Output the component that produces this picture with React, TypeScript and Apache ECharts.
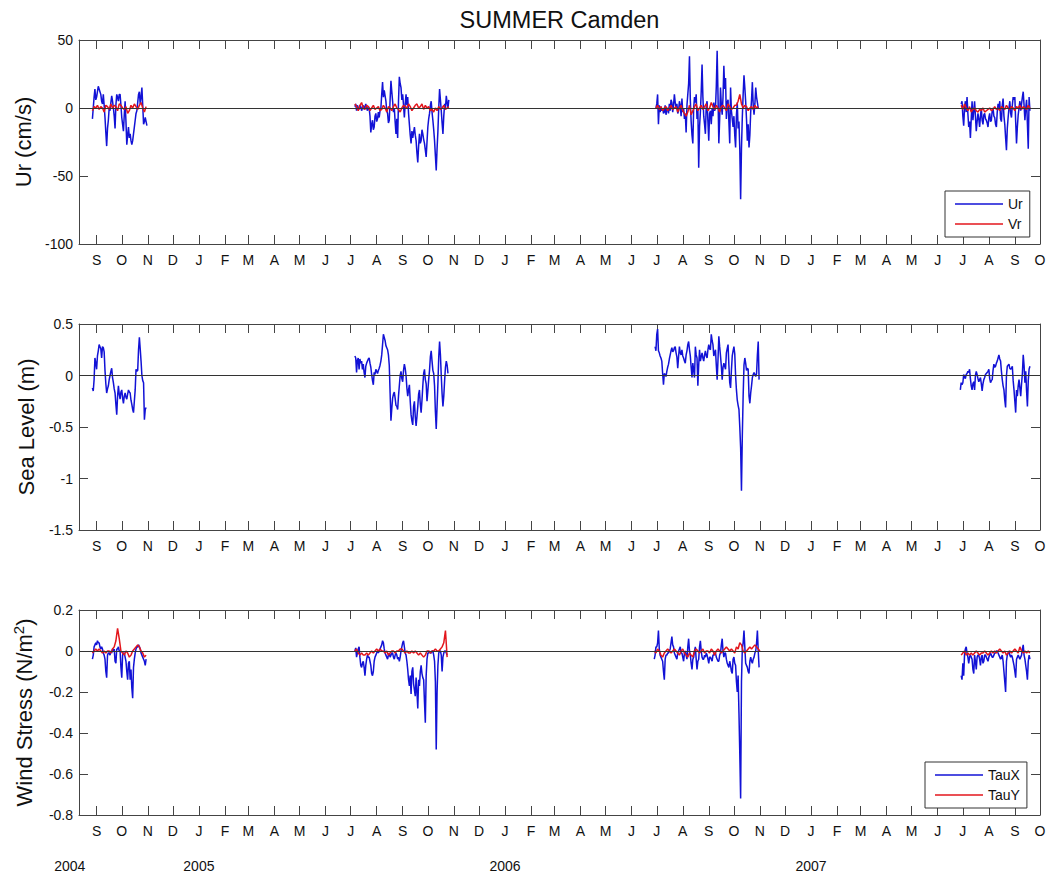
import React, { useEffect, useRef } from 'react';
import * as echarts from 'echarts';

const DAY = 86400000;
const FONT = "'Liberation Sans', Arial, Helvetica, sans-serif";
const BLUE = '#1212d6';
const RED = '#e3161c';
const FRAME = '#444444';

const AXIS_START = '2004-08-11';
const AXIS_END = '2007-10-01';
const MONTH_LETTERS = ['J', 'F', 'M', 'A', 'M', 'J', 'J', 'A', 'S', 'O', 'N', 'D'];
const YEAR_LABELS = ['2004', '2005', '2006', '2007'];
const YEAR_LABEL_DATES = ['2004-07-31', '2005-01-01', '2006-01-01', '2007-01-01'];
const TITLE = 'SUMMER Camden';

// ---------- Ur (cm/s), daily ----------
const UR_2004_START = '2004-08-27';
const UR_2004 = [-8, 0, 8, 14, 6, 8, 12, 16, 14, 12, 10, 5, 3, 10, 2, -7, -18, -28, -15, -9, 0, -2, 4, 9, 5, 0, -6, -15, 2, 10, 8, 5, 10, 10, 2, -7, -12, -17, -5, 5, -10, -27, -20, -14, -22, -19, -24, -27, -24, -19, -14, -9, -4, -2, 4, 10, 12, 3, 8, 15, 2, -12, -10, -7, -10, -13];
const UR_2005_START = '2005-07-06';
const UR_2005 = [1, 3, -2, 2, 0, -1, 2, 1, -2, 0, 2, -1, 1, 3, 0, -2, 1,
  0, -6, -18, -12, -9, -16, -14, -6, -4, -10,
  -8, -3, -7, -2, 0, 10, 19, 8, 13, 9,
  5, -2, -4, -11, -9, 6, 20, 12, 5, -3,
  0, -10, -19, -8, -22, 5, 23, 18, 15, 6,
  10, 2, -7, 3, 10, 2, 8, -4, -12, -20,
  -26, -17, -22, -18, -14, -20, -24, -33, -40, -28,
  -19, -26, -24, -16, -19, -23, -26, -31, -36, -25,
  -14, -8, -4, 2, 5, -3, -9, -16, -24, -35,
  -46, -30, -17, 0, 14, 6, -2, -11, -19, -6,
  3, 0, 9, 4, 0, 6];
const UR_2006_START = '2006-06-30';
const UR_2006 = [0, 3, 10, -12, 2, -3, 1, -2, 0, -4,
  -3, 2, -5, -1, 0, -4, 3, -2, 6, 4,
  -3, 2, 10, 4, 0, 3, -4, -2, 5, 2,
  -6, 7, -3, 0, -8, -4, -18, 2, 10, 18,
  38, 6, -10, -20, -26, 0, 8, 4, 10, -8,
  0, -44, -14, -3, 12, 32, 8, -6, -12, -19,
  2, 5, -10, -24, -4, -2, -12, 0, -6, 4,
  -2, 0, 16, 42, 10, -26, -8, 15, 2, -5,
  8, 31, 14, 22, -8, 4, 6, -10, -26, 15,
  -2, -8, -14, -6, -20, -29, -5, 4, -15, -10,
  -30, -67, -30, -7, 10, 24, 15, 5, -8, -24,
  -12, -29, -20, -3, 6, 19, 2, -5, 3, 15,
  8, 4, 0];
const UR_2007_START = '2007-06-29';
const UR_2007 = [3, 5, -6, -13, 0, 5, -3, 8, -4, -14,
  -10, -22, -8, 5, -9, -2, 5, -6, -17, -10,
  -4, -8, -14, -6, 0, -9, -12, -5, -4, -8,
  -9, -11, -14, -7, -4, -10, -9, -2, 0, -6,
  -7, -12, -14, -3, 3, -1, 5, -8, -10, 2,
  7, -6, -12, -22, -31, -15, -7, 0, 5, -4,
  -7, 2, 8, 6, 8, -10, -26, -14, -5, 0,
  5, -2, 3, 8, 12, 2, -9, 0, 6, -12,
  -30, 8, -2];

// ---------- Vr (cm/s), every 2 days ----------
const VR_2004 = [-2, 1, 0, 2, -1, 1, 0, -3, 2, 1, -1, 3, 0, 2, 1, -2, 3, 2, 0, -1, 1, -4, -2, 2, 0, 3, 1, -1, 2, 4, 0, -3, 1];
const VR_2005 = [3, 1, -2, 2, 4, 0, -1, 2, 1, -2, 0, 2, -1, 0, 1, -2, -1, 2, 0, -3, 1, 0, -2, 1, 3, 0, -1, -3, 0, 2, 1, 0, 3, 1, -2, 0, 2, 3, 0, 1, 3, -1, 2, 0, 1, -2, -1, -3, 0, -2, 1, -1, 0, 2, -1, 0, 1];
const VR_2006 = [0, 2, -1, 1, -2, 0, 1, -2, 0, 2, -1, 0, 1, -3, 0, 2, -2, -4, -6, -3, 2, -5, -2, 1, 3, -2, 0, 2, -1, 1, 3, -2, 0, 4, 1, -1, 2, 0, -3, 1, 2, 0, -2, 3, 1, -1, 0, 2, 2, 5, 10, 3, 0, 2, 1, -2, 0, 1, -1, 2, 0, 1];
const VR_2007 = [2, -1, 3, 0, -2, 1, -3, -1, 0, -2, -3, -1, -2, 0, -3, -2, -1, 0, -2, -1, 1, -1, 0, -2, 1, 0, -1, 2, 0, -1, 1, 0, -2, 1, 0, 2, -1, 1, 0, -1, 2, 0];

// ---------- Sea level (m), daily ----------
const SL_2004_START = '2004-08-27';
const SL_2004 = [-0.12, -0.15, -0.04, 0.17, 0.12, 0.06, 0.19, 0.24, 0.30, 0.28,
  0.26, 0.17, 0.28, 0.27, 0.23, 0.05, -0.08, -0.17, -0.13, -0.10,
  -0.04, 0.0, 0.04, 0.07, -0.02, -0.07, -0.13, -0.17, -0.28, -0.38,
  -0.20, -0.10, -0.18, -0.23, -0.16, -0.14, -0.22, -0.27, -0.20, -0.17,
  -0.21, -0.23, -0.18, -0.14, -0.16, -0.17, -0.24, -0.28, -0.33, -0.36,
  -0.25, -0.14, 0.06, 0.04, 0.05, 0.25, 0.37, 0.26, 0.14, 0.0,
  -0.05, -0.07, -0.43, -0.33, -0.31];
const SL_2005_START = '2005-07-06';
const SL_2005 = [0.19, 0.17, 0.03, 0.15, 0.17, 0.06, 0.16, 0.12, 0.14, 0.06,
  0.11, 0.03, -0.02, 0.09, 0.12, 0.14, 0.16, 0.17, 0.12, 0.08,
  0.01, -0.05, -0.09, 0.03, 0.01, 0.06, 0.04, 0.02, 0.05, 0.07,
  0.10, 0.14, 0.20, 0.30, 0.40, 0.37, 0.34, 0.29, 0.27, 0.25,
  0.20, 0.10, -0.17, -0.44, -0.32, -0.22, -0.18, -0.16, -0.22, -0.29,
  -0.30, -0.33, -0.20, -0.10, 0.0, 0.04, -0.03, -0.06, 0.05, 0.11,
  0.07, 0.0, -0.12, -0.20, -0.14, -0.09, -0.25, -0.38, -0.44, -0.48,
  -0.30, -0.25, -0.40, -0.49, -0.40, -0.30, -0.18, -0.14, -0.28, -0.36,
  -0.24, -0.10, 0.02, 0.06, -0.04, -0.08, -0.25, -0.15, -0.04, 0.05,
  0.18, 0.24, 0.14, 0.05, 0.02, -0.10, -0.35, -0.52, -0.30, -0.08,
  0.18, 0.33, 0.20, 0.0, -0.18, -0.30, -0.20, -0.05, 0.08, 0.14,
  0.10, 0.02];
const SL_2006_START = '2006-06-29';
const SL_2006 = [0.28, 0.24, 0.40, 0.45, 0.24, 0.22, 0.19, 0.17, 0.14, 0.02,
  -0.09, 0.02, 0.01, -0.01, 0.04, 0.08, 0.11, 0.16, 0.20, 0.24,
  0.27, 0.23, 0.24, 0.27, 0.28, 0.22, 0.18, 0.07, 0.18, 0.28,
  0.22, 0.20, 0.25, 0.19, 0.17, 0.14, 0.12, 0.20, 0.24, 0.30,
  0.33, 0.25, 0.19, 0.08, -0.02, 0.12, 0.05, -0.02, 0.28, 0.20,
  0.17, -0.10, 0.10, 0.25, 0.14, 0.18, 0.22, 0.17, 0.14, 0.20,
  0.24, 0.19, 0.17, 0.25, 0.30, 0.26, 0.25, 0.40, 0.34, 0.30,
  0.19, 0.22, 0.25, 0.10, -0.04, 0.15, 0.38, 0.28, 0.19, 0.09,
  -0.04, 0.08, 0.12, 0.09, 0.06, 0.22, 0.26, 0.30, 0.10, -0.07,
  -0.12, 0.05, 0.19, 0.24, 0.28, 0.21, 0.0, -0.14, -0.24, -0.29,
  -0.33, -0.50, -0.70, -1.12, -0.59, -0.20, 0.10, 0.17, 0.12, 0.05,
  0.07, 0.06, -0.20, -0.27, -0.17, -0.10, -0.02, 0.01, 0.03, 0.01,
  -0.01, 0.02, 0.20, 0.33, -0.04];
const SL_2007_START = '2007-06-28';
const SL_2007 = [-0.14, -0.07, -0.09, -0.07, 0.01, -0.02, -0.03, 0.01, 0.02, 0.04,
  0.03, 0.06, -0.03, -0.10, -0.14, -0.08, -0.06, -0.14, 0.0, 0.04,
  0.01, -0.03, -0.06, -0.04, -0.02, -0.08, -0.15, -0.08, -0.04, -0.02,
  0.01, 0.02, 0.03, 0.04, 0.06, -0.03, -0.07, -0.05, -0.04, 0.05,
  0.11, 0.08, 0.09, 0.12, 0.14, 0.17, 0.20, 0.16, 0.14, 0.04,
  -0.04, -0.10, -0.14, -0.24, -0.31, 0.0, 0.09, 0.10, 0.11, 0.07,
  0.06, 0.07, 0.09, -0.05, -0.14, -0.25, -0.36, -0.14, -0.20, -0.10,
  -0.04, -0.12, -0.20, -0.08, 0.02, 0.20, 0.10, -0.07, 0.04, -0.15,
  -0.30, -0.05, 0.06, 0.09];

// ---------- TauX (N/m^2), daily ----------
const TX_2004_START = '2004-08-27';
const TX_2004 = [-0.04, -0.02, 0.02, 0.03, 0.04, 0.03, 0.05, 0.04, 0.04, 0.02,
  0.01, 0.02, 0.01, -0.01, -0.02, -0.04, -0.10, -0.13, -0.02, -0.01,
  -0.01, -0.02, 0.0, -0.01, 0.01, 0.0, 0.01, -0.05, -0.06, 0.01,
  0.01, 0.02, 0.0, 0.0, -0.08, -0.13, -0.02, -0.01, -0.01, -0.03,
  -0.05, -0.10, -0.14, -0.06, -0.05, -0.14, -0.09, -0.18, -0.23, -0.08,
  -0.04, -0.01, 0.01, 0.02, 0.02, 0.03, 0.02, 0.01, -0.01, -0.02,
  -0.03, -0.04, -0.05, -0.07, -0.04];
const TX_2005_START = '2005-07-06';
const TX_2005 = [0.0, 0.015, -0.03, -0.01, 0.01, 0.02, -0.03, -0.07, -0.08, -0.06,
  -0.05, -0.08, -0.12, -0.07, -0.04, -0.02, -0.03, -0.03, -0.05, -0.07,
  -0.11, -0.12, -0.10, -0.05, -0.03, -0.02, -0.01, 0.0, -0.01, 0.0,
  0.01, 0.02, 0.03, 0.05, 0.04, 0.01, -0.01, -0.02, -0.03, -0.04,
  -0.02, -0.01, -0.03, -0.02, -0.01, -0.01, -0.03, -0.04, -0.02, -0.01,
  -0.02, -0.04, -0.03, -0.05, -0.03, 0.0, 0.02, 0.04, 0.05, 0.02,
  -0.01, -0.02, -0.05, -0.09, -0.14, -0.17, -0.12, -0.21, -0.10, -0.08,
  -0.16, -0.19, -0.22, -0.13, -0.20, -0.28, -0.14, -0.17, -0.10, -0.07,
  -0.11, -0.13, -0.14, -0.25, -0.35, -0.12, -0.04, -0.01, -0.01, 0.0,
  -0.01, -0.01, 0.0, 0.0, -0.02, -0.05, -0.15, -0.48, -0.20, -0.07,
  -0.01, 0.0, 0.0, -0.02, -0.10, -0.03, -0.01, 0.0, 0.0, -0.01,
  -0.02];
const TX_2006_START = '2006-06-28';
const TX_2006 = [-0.04, -0.02, 0.02, 0.02, 0.04, 0.10, 0.01, -0.02, -0.03, -0.04,
  -0.05, -0.10, -0.14, -0.04, -0.02, -0.02, -0.01, -0.01, 0.0, 0.01,
  0.04, 0.07, 0.03, 0.02, -0.01, -0.02, -0.03, -0.04, -0.01, 0.0,
  0.01, 0.02, -0.01, -0.01, -0.03, -0.05, -0.01, 0.0, -0.02, -0.04,
  0.02, 0.06, 0.0, -0.02, -0.06, -0.09, -0.04, -0.03, 0.0, 0.02,
  -0.04, -0.09, -0.05, -0.04, 0.02, 0.05, 0.0, -0.03, -0.04, -0.04,
  -0.02, -0.03, -0.01, -0.02, -0.04, -0.06, -0.03, -0.03, -0.04, -0.05,
  -0.02, -0.02, -0.01, -0.01, -0.03, -0.04, -0.05, -0.05, -0.02, -0.01,
  0.03, 0.06, 0.0, -0.03, -0.01, -0.01, -0.04, -0.06, -0.07, -0.08,
  -0.05, -0.07, -0.10, -0.11, -0.04, -0.03, -0.06, -0.07, -0.15, -0.20,
  -0.12, -0.30, -0.50, -0.72, -0.15, 0.01, 0.04, 0.10, 0.02, -0.06,
  -0.07, -0.08, -0.10, -0.11, -0.05, -0.03, -0.05, -0.06, -0.04, -0.03,
  -0.01, 0.0, 0.04, 0.10, 0.0, -0.08];
const TX_2007_START = '2007-06-29';
const TX_2007 = [-0.12, -0.14, -0.06, -0.12, -0.02, 0.01, 0.02, -0.01, -0.03, -0.06,
  -0.03, -0.02, -0.03, -0.04, -0.09, -0.11, -0.02, -0.05, -0.09, -0.03,
  -0.02, -0.02, -0.04, -0.07, -0.03, -0.02, -0.06, -0.05, -0.02, -0.02,
  -0.03, -0.04, -0.05, -0.03, -0.02, -0.01, -0.02, -0.03, -0.03, -0.02,
  -0.01, -0.01, 0.0, 0.0, -0.01, -0.02, -0.03, -0.04, -0.03, -0.02,
  -0.05, -0.10, -0.15, -0.20, -0.05, -0.02, -0.01, 0.0, -0.02, -0.03,
  -0.02, -0.03, -0.05, -0.07, -0.10, -0.13, -0.04, -0.03, -0.02, -0.03,
  -0.04, -0.03, -0.02, 0.01, 0.03, -0.02, -0.04, -0.07, -0.10, -0.14,
  -0.05, -0.02, -0.04];

// ---------- TauY (N/m^2), every 2 days ----------
const TY_2004 = [-0.01, 0.0, 0.01, 0.0, 0.01, 0.0, -0.01, 0.0, -0.01, 0.0, 0.0, -0.01, 0.01, 0.02, 0.05, 0.11, 0.06, 0.0, -0.01, -0.02, 0.0, -0.01, -0.03, -0.02, 0.0, 0.01, 0.02, 0.03, 0.02, 0.0, -0.01, -0.03, -0.02];
const TY_2005 = [0.0, 0.01, -0.01, -0.02, -0.01, -0.02, -0.02, -0.01, -0.02, -0.01, 0.0, -0.01, 0.0, 0.01, 0.0, 0.01, 0.0, 0.0, -0.01, 0.0, -0.02, -0.01, 0.0, 0.0, -0.01, 0.0, 0.0, 0.01, 0.01, 0.0, -0.01, 0.0, -0.01, -0.01, 0.0, -0.01, 0.0, -0.01, -0.02, -0.01, -0.02, -0.03, -0.02, 0.0, 0.0, -0.01, 0.0, 0.0, 0.01, 0.0, 0.0, 0.01, 0.02, 0.04, 0.10, -0.03];
const TY_2006 = [0.0, -0.01, 0.01, 0.0, -0.02, -0.03, -0.01, 0.0, 0.01, 0.0, -0.01, 0.0, 0.01, 0.0, -0.01, -0.02, 0.0, 0.01, -0.01, -0.02, -0.03, -0.01, -0.02, -0.03, 0.0, 0.01, 0.0, -0.01, 0.0, 0.01, -0.01, 0.0, 0.0, -0.01, 0.01, 0.0, -0.02, 0.0, 0.01, 0.0, -0.01, 0.0, 0.01, 0.02, 0.01, 0.0, 0.01, 0.0, -0.01, 0.02, 0.01, 0.04, 0.03, 0.0, -0.01, 0.0, 0.01, 0.02, 0.01, 0.02, 0.03, 0.02, 0.01, 0.0];
const TY_2007 = [-0.02, -0.01, 0.0, -0.02, -0.01, -0.02, -0.01, -0.02, -0.01, 0.0, -0.01, -0.02, -0.01, -0.01, 0.0, -0.01, -0.02, -0.01, 0.0, -0.01, 0.0, -0.01, 0.0, 0.01, 0.0, -0.01, 0.0, -0.02, -0.01, 0.0, -0.01, 0.0, 0.01, 0.0, -0.01, 0.02, 0.0, -0.01, 0.0, -0.01, 0.0, -0.01];

const toTime = (s: string) => Date.parse(s + 'T00:00:00Z');

type Part = { start: string; step: number; values: number[] };
function buildSeries(parts: Part[]) {
  const out: (number | null)[][] = [];
  parts.forEach((p, k) => {
    const t0 = toTime(p.start);
    p.values.forEach((v, i) => out.push([t0 + i * p.step * DAY, v]));
    if (k < parts.length - 1) out.push([t0 + p.values.length * p.step * DAY, null]);
  });
  return out;
}

const T_MIN = toTime(AXIS_START);
const T_MAX = toTime(AXIS_END);
const MONTH_TICKS: number[] = [];
for (let y = 2004; y <= 2007; y++) {
  for (let m = 0; m < 12; m++) {
    const t = Date.UTC(y, m, 1);
    if (t >= T_MIN && t <= T_MAX) MONTH_TICKS.push(t);
  }
}

const GRID_LEFT = 79;
const GRID_WIDTH = 961;
const PANELS = [
  { top: 40, height: 204, min: -100, max: 50, interval: 50, name: 'Ur (cm/s)', nameGap: 45 },
  { top: 324, height: 206, min: -1.5, max: 0.5, interval: 0.5, name: 'Sea Level (m)', nameGap: 42 },
  { top: 610, height: 205, min: -0.8, max: 0.2, interval: 0.2, name: '{a|Wind Stress (N/m}{s|2}{a|)}', nameGap: 41 },
];

const LEGEND_LINE_ICON = 'path://M0,0H48V1.3H0Z';

function buildOption() {
  const grid = PANELS.map((p) => ({ left: GRID_LEFT, width: GRID_WIDTH, top: p.top, height: p.height, containLabel: false }));
  const xAxis: any[] = [];
  const yAxis: any[] = [];
  PANELS.forEach((p, i) => {
    const base = {
      type: 'value',
      gridIndex: i,
      min: T_MIN,
      max: T_MAX,
      splitLine: { show: false },
      axisLine: { show: true, onZero: false, lineStyle: { color: FRAME, width: 1 } },
      axisTick: { show: true, inside: true, length: 9, customValues: MONTH_TICKS, lineStyle: { color: FRAME, width: 1 } },
    };
    xAxis.push({
      ...base,
      position: 'bottom',
      axisLabel: {
        show: true,
        customValues: MONTH_TICKS,
        formatter: (v: number) => MONTH_LETTERS[new Date(v).getUTCMonth()],
        margin: 9,
        fontSize: 14,
        fontFamily: FONT,
        color: '#111',
      },
    });
    xAxis.push({ ...base, position: 'top', axisLabel: { show: false } });
    const ybase = {
      type: 'value',
      gridIndex: i,
      min: p.min,
      max: p.max,
      interval: p.interval,
      splitLine: { show: false },
      axisLine: { show: true, onZero: false, lineStyle: { color: FRAME, width: 1 } },
      axisTick: { show: true, inside: true, length: 9, lineStyle: { color: FRAME, width: 1 } },
    };
    yAxis.push({
      ...ybase,
      position: 'left',
      axisLabel: {
        show: true,
        margin: 6,
        fontSize: 14,
        fontFamily: FONT,
        color: '#111',
        formatter: (v: number) => String(Math.round(v * 100) / 100),
      },
      name: p.name,
      nameLocation: 'middle',
      nameGap: p.nameGap,
      nameTextStyle: {
        fontSize: 22,
        fontFamily: FONT,
        color: '#111',
        rich: {
          a: { fontSize: 22, fontFamily: FONT, color: '#111', lineHeight: 27 },
          s: { fontSize: 15, fontFamily: FONT, color: '#111', verticalAlign: 'top', lineHeight: 27 },
        },
      },
    });
    yAxis.push({ ...ybase, position: 'right', axisLabel: { show: false } });
  });

  const zero = (i: number) => ({
    type: 'line',
    xAxisIndex: 2 * i,
    yAxisIndex: 2 * i,
    data: [],
    silent: true,
    z: 1,
    markLine: {
      silent: true,
      symbol: ['none', 'none'],
      label: { show: false },
      lineStyle: { color: '#333', width: 1, type: 'solid' },
      data: [{ yAxis: 0 }],
    },
  });

  const line = (name: string, i: number, color: string, data: any[], width: number, z: number) => ({
    name,
    type: 'line',
    xAxisIndex: 2 * i,
    yAxisIndex: 2 * i,
    data,
    symbol: 'none',
    showSymbol: false,
    connectNulls: false,
    silent: true,
    color,
    lineStyle: { color, width },
    z,
  });

  const series = [
    zero(0),
    zero(1),
    zero(2),
    line('Ur', 0, BLUE, buildSeries([
      { start: UR_2004_START, step: 1, values: UR_2004 },
      { start: UR_2005_START, step: 1, values: UR_2005 },
      { start: UR_2006_START, step: 1, values: UR_2006 },
      { start: UR_2007_START, step: 1, values: UR_2007 },
    ]), 1.5, 2),
    line('Vr', 0, RED, buildSeries([
      { start: UR_2004_START, step: 2, values: VR_2004 },
      { start: UR_2005_START, step: 2, values: VR_2005 },
      { start: UR_2006_START, step: 2, values: VR_2006 },
      { start: UR_2007_START, step: 2, values: VR_2007 },
    ]), 1.5, 3),
    line('Sea Level', 1, BLUE, buildSeries([
      { start: SL_2004_START, step: 1, values: SL_2004 },
      { start: SL_2005_START, step: 1, values: SL_2005 },
      { start: SL_2006_START, step: 1, values: SL_2006 },
      { start: SL_2007_START, step: 1, values: SL_2007 },
    ]), 1.5, 2),
    line('TauX', 2, BLUE, buildSeries([
      { start: TX_2004_START, step: 1, values: TX_2004 },
      { start: TX_2005_START, step: 1, values: TX_2005 },
      { start: TX_2006_START, step: 1, values: TX_2006 },
      { start: TX_2007_START, step: 1, values: TX_2007 },
    ]), 1.5, 2),
    line('TauY', 2, RED, buildSeries([
      { start: TX_2004_START, step: 2, values: TY_2004 },
      { start: TX_2005_START, step: 2, values: TY_2005 },
      { start: TX_2006_START, step: 2, values: TY_2006 },
      { start: TX_2007_START, step: 2, values: TY_2007 },
    ]), 1.5, 3),
  ];

  const legendBase = {
    orient: 'vertical',
    icon: LEGEND_LINE_ICON,
    itemWidth: 48,
    itemHeight: 14,
    itemGap: 6,
    padding: [6, 7, 6, 10],
    borderColor: '#333',
    borderWidth: 1,
    borderRadius: 0,
    backgroundColor: '#fff',
    selectedMode: false,
    textStyle: { fontSize: 14, fontFamily: FONT, color: '#111' },
  };

  return {
    animation: false,
    backgroundColor: '#fff',
    grid,
    xAxis,
    yAxis,
    legend: [
      { ...legendBase, data: ['Ur', 'Vr'], left: 945, top: 191 },
      { ...legendBase, data: ['TauX', 'TauY'], left: 925, top: 762 },
    ],
    series,
    graphic: [
      {
        id: 'title',
        type: 'text',
        x: GRID_LEFT + GRID_WIDTH / 2,
        y: 20,
        style: { text: TITLE, fontSize: 23.5, fontFamily: FONT, fill: '#111', align: 'center', verticalAlign: 'middle' },
      },
    ],
  };
}

export default function App() {
  const ref = useRef<HTMLDivElement>(null);
  useEffect(() => {
    if (!ref.current) return;
    const chart = echarts.init(ref.current, null, { renderer: 'svg' });
    chart.setOption(buildOption() as any);
    const years = YEAR_LABELS.map((label, i) => {
      const x = chart.convertToPixel({ xAxisIndex: 4 } as any, toTime(YEAR_LABEL_DATES[i])) as number;
      return {
        id: 'year' + i,
        type: 'text',
        x,
        y: 866,
        style: { text: label, fontSize: 14, fontFamily: FONT, fill: '#111', align: 'center', verticalAlign: 'middle' },
      };
    });
    chart.setOption({ graphic: years } as any);
    return () => chart.dispose();
  }, []);
  return <div ref={ref} style={{ position: 'absolute', left: 0, top: 0, width: 1058, height: 878 }} />;
}
